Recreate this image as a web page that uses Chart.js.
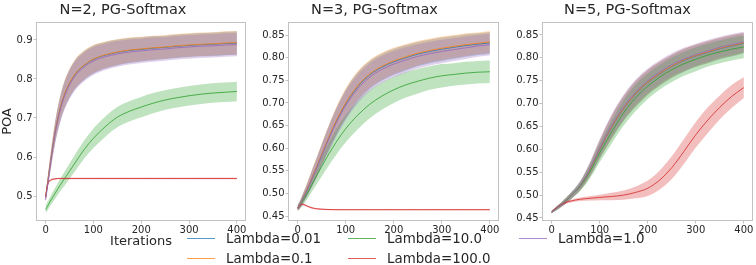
<!DOCTYPE html>
<html>
<head>
<meta charset="utf-8">
<script src="https://cdn.jsdelivr.net/npm/chart.js@4/dist/chart.umd.min.js"></script>
<style>
  body { margin: 0; background: #fff; width: 756px; height: 265px; position: relative; overflow: hidden; font-family: "DejaVu Sans", sans-serif; }
  canvas { position: absolute; top: 0; }
  .leg { position: absolute; font-size: 13.4px; line-height: 16px; color: #262626; white-space: nowrap; }
  .leg span.swatch { position: absolute; display: block; width: 28px; height: 0; border-top: 1.5px solid; }
</style>
</head>
<body>
<canvas id="c1" width="250" height="265" style="left:0"></canvas>
<canvas id="c2" width="252" height="265" style="left:250px"></canvas>
<canvas id="c3" width="254" height="265" style="left:502px"></canvas>
<div id="legend"></div>
<script>
// x positions where the curves were read
const iterations = [0, 5, 10, 20, 30, 40, 60, 80, 100, 125, 150, 175, 200, 225, 250, 275, 300, 325, 350, 375, 400];

const lambdaLabels = ['Lambda=0.01', 'Lambda=0.1', 'Lambda=10.0', 'Lambda=100.0', 'Lambda=1.0'];
const lambdaColors = ['31,119,180', '255,127,14', '44,160,44', '214,39,40', '148,103,189'];
const panelTitles = ['N=2, PG-Softmax', 'N=3, PG-Softmax', 'N=5, PG-Softmax'];

const xTicks = [0, 100, 200, 300, 400];
const yTicksN2 = [0.5, 0.6, 0.7, 0.8, 0.9];
const yTicksN3 = [0.45, 0.50, 0.55, 0.60, 0.65, 0.70, 0.75, 0.80, 0.85];
const yTicksN5 = [0.45, 0.50, 0.55, 0.60, 0.65, 0.70, 0.75, 0.80, 0.85];

// N=2 means
const n2Lam001 = [0.497,0.540,0.584,0.664,0.721,0.761,0.809,0.834,0.850,0.861,0.868,0.873,0.876,0.879,0.881,0.884,0.886,0.888,0.889,0.891,0.892];
const n2Lam01  = [0.498,0.541,0.585,0.665,0.722,0.762,0.810,0.835,0.851,0.862,0.869,0.874,0.877,0.880,0.882,0.885,0.887,0.889,0.890,0.892,0.893];
const n2Lam10  = [0.465,0.476,0.487,0.507,0.527,0.545,0.582,0.618,0.648,0.678,0.702,0.717,0.728,0.738,0.746,0.752,0.757,0.761,0.764,0.766,0.768];
const n2Lam100 = [0.497,0.532,0.540,0.544,0.545,0.545,0.545,0.545,0.545,0.545,0.545,0.545,0.545,0.545,0.545,0.545,0.545,0.545,0.545,0.545,0.545];
const n2Lam1   = [0.490,0.535,0.580,0.660,0.717,0.757,0.805,0.830,0.846,0.857,0.864,0.869,0.872,0.875,0.877,0.880,0.882,0.884,0.885,0.887,0.888];
// N=2 spreads
const n2SpreadTop   = [0.008,0.015,0.020,0.027,0.032,0.035,0.037,0.037,0.036,0.034,0.033,0.032,0.031,0.031,0.030,0.030,0.030,0.030,0.030,0.030,0.030];
const n2SpreadGreen = [0.010,0.011,0.012,0.014,0.016,0.018,0.021,0.023,0.025,0.026,0.026,0.026,0.026,0.026,0.025,0.025,0.025,0.025,0.025,0.025,0.025];
const n2SpreadRed   = [0.008,0.004,0.003,0.002,0.002,0.002,0.002,0.002,0.002,0.002,0.002,0.002,0.002,0.002,0.002,0.002,0.002,0.002,0.002,0.002,0.002];

// N=3 means
const n3Lam001 = [0.468,0.476,0.487,0.509,0.534,0.559,0.611,0.658,0.698,0.736,0.762,0.779,0.791,0.800,0.808,0.814,0.819,0.823,0.827,0.830,0.833];
const n3Lam01  = [0.468,0.476,0.487,0.510,0.535,0.560,0.612,0.660,0.700,0.738,0.764,0.781,0.793,0.802,0.810,0.816,0.821,0.825,0.829,0.832,0.835];
const n3Lam10  = [0.467,0.474,0.482,0.500,0.520,0.540,0.578,0.613,0.643,0.673,0.697,0.715,0.729,0.740,0.748,0.755,0.760,0.763,0.766,0.768,0.769];
const n3Lam100 = [0.467,0.474,0.476,0.472,0.468,0.466,0.4645,0.464,0.464,0.464,0.464,0.464,0.464,0.464,0.464,0.464,0.464,0.464,0.464,0.464,0.464];
const n3Lam1   = [0.467,0.475,0.486,0.508,0.532,0.557,0.608,0.655,0.694,0.731,0.757,0.774,0.786,0.795,0.803,0.809,0.814,0.818,0.822,0.826,0.829];
// N=3 spreads
const n3SpreadTop   = [0.006,0.008,0.010,0.014,0.018,0.021,0.026,0.030,0.032,0.032,0.031,0.030,0.029,0.028,0.027,0.026,0.026,0.025,0.025,0.024,0.024];
const n3SpreadGreen = [0.006,0.008,0.010,0.013,0.016,0.019,0.024,0.028,0.030,0.031,0.031,0.030,0.029,0.028,0.027,0.026,0.026,0.025,0.025,0.025,0.025];
const n3SpreadRed   = [0.005,0.004,0.003,0.002,0.002,0.0015,0.0015,0.0015,0.0015,0.0015,0.0015,0.0015,0.0015,0.0015,0.0015,0.0015,0.0015,0.0015,0.0015,0.0015,0.0015];

// N=5 means
const n5Lam001 = [0.463,0.467,0.471,0.479,0.488,0.498,0.521,0.556,0.599,0.648,0.689,0.721,0.746,0.765,0.781,0.794,0.804,0.812,0.820,0.826,0.832];
const n5Lam01  = [0.463,0.467,0.471,0.479,0.488,0.498,0.521,0.556,0.600,0.649,0.690,0.722,0.747,0.766,0.782,0.795,0.805,0.813,0.821,0.827,0.833];
const n5Lam10  = [0.463,0.467,0.471,0.479,0.488,0.498,0.520,0.552,0.592,0.638,0.680,0.713,0.738,0.758,0.774,0.787,0.797,0.806,0.813,0.819,0.824];
const n5Lam100 = [0.463,0.468,0.472,0.479,0.484,0.487,0.491,0.493,0.495,0.497,0.500,0.506,0.515,0.533,0.560,0.595,0.632,0.664,0.692,0.716,0.735];
const n5Lam1   = [0.463,0.467,0.471,0.479,0.488,0.498,0.522,0.558,0.602,0.652,0.693,0.725,0.750,0.769,0.785,0.797,0.807,0.815,0.823,0.829,0.835];
// N=5 spreads
const n5SpreadTop   = [0.003,0.003,0.004,0.005,0.006,0.007,0.010,0.015,0.020,0.025,0.027,0.028,0.027,0.026,0.025,0.025,0.024,0.024,0.023,0.023,0.022];
const n5SpreadGreen = [0.003,0.003,0.004,0.005,0.006,0.007,0.010,0.015,0.020,0.025,0.028,0.029,0.028,0.027,0.027,0.026,0.026,0.025,0.025,0.025,0.025];
const n5SpreadRed   = [0.002,0.002,0.002,0.003,0.003,0.003,0.004,0.005,0.006,0.008,0.010,0.013,0.017,0.021,0.025,0.027,0.028,0.028,0.026,0.025,0.023];

Chart.defaults.font.family = '"DejaVu Sans", sans-serif';
Chart.defaults.color = '#262626';

// series plotted in legend order; later ones sit on top
const lineOrder = [4, 3, 2, 1, 0];

function buildDatasets(means, spreads) {
  const sets = [];
  means.forEach((mean, k) => {
    const spread = spreads[k];
    const col = lambdaColors[k];
    const base = sets.length;
    const common = { pointRadius: 0, cubicInterpolationMode: 'monotone' };
    sets.push({ ...common, data: iterations.map((x, i) => ({ x, y: mean[i] + spread[i] })),
      borderWidth: 0, borderColor: 'transparent', backgroundColor: `rgba(${col},0.3)`, fill: base + 1, order: 10 + lineOrder[k] });
    sets.push({ ...common, data: iterations.map((x, i) => ({ x, y: mean[i] - spread[i] })),
      borderWidth: 0, borderColor: 'transparent', fill: false, order: 10 + lineOrder[k] });
    sets.push({ ...common, data: iterations.map((x, i) => ({ x, y: mean[i] })),
      borderWidth: 1, borderColor: `rgba(${col},0.8)`, fill: false, order: lineOrder[k] });
  });
  return sets;
}

const framePlugin = {
  id: 'frame',
  afterDatasetsDraw(chart) {
    const { ctx, chartArea: a } = chart;
    ctx.save();
    ctx.strokeStyle = '#c2c2c2';
    ctx.lineWidth = 1;
    ctx.strokeRect(a.left + 0.5, a.top + 0.5, a.right - a.left - 1, a.bottom - a.top - 1);
    ctx.restore();
  }
};

function makePanel(id, title, means, spreads, yTicks, yMin, yMax, yWidth, padRight, decimals, first) {
  new Chart(document.getElementById(id), {
    type: 'line',
    data: { datasets: buildDatasets(means, spreads) },
    options: {
      responsive: false,
      animation: false,
      layout: { padding: { left: 0, right: padRight, top: 0, bottom: 0 } },
      plugins: {
        legend: { display: false },
        tooltip: { enabled: false },
        title: { display: true, text: title, font: { size: 14.5, weight: 'normal' }, padding: { top: 2, bottom: 2.6 }, color: '#262626' }
      },
      scales: {
        x: {
          type: 'linear', min: -20, max: 419,
          afterBuildTicks: s => { s.ticks = xTicks.map(v => ({ value: v })); },
          afterFit: s => { s.height = 44; },
          grid: { display: true, drawOnChartArea: false, drawTicks: true, tickLength: 2.5, color: '#c2c2c2' },
          border: { display: false },
          ticks: { font: { size: 10 }, padding: 1, maxRotation: 0, color: '#262626', callback: v => String(v) },
          title: { display: first, text: 'Iterations', font: { size: 13 }, padding: { top: 0, bottom: 16 }, color: '#262626' }
        },
        y: {
          min: yMin, max: yMax,
          afterBuildTicks: s => { s.ticks = yTicks.map(v => ({ value: v })); },
          afterFit: s => { s.width = yWidth; },
          grid: { display: true, drawOnChartArea: false, drawTicks: true, tickLength: 2.5, color: '#c2c2c2' },
          border: { display: false },
          ticks: { font: { size: 10 }, padding: 1, color: '#262626', callback: v => Number(v).toFixed(decimals) },
          title: { display: first, text: 'POA', font: { size: 13 }, padding: { top: 0, bottom: 0 }, color: '#262626' }
        }
      }
    },
    plugins: [framePlugin]
  });
}

makePanel('c1', panelTitles[0],
  [n2Lam001, n2Lam01, n2Lam10, n2Lam100, n2Lam1],
  [n2SpreadTop, n2SpreadTop, n2SpreadGreen, n2SpreadRed, n2SpreadTop],
  yTicksN2, 0.436, 0.946, 36, 4, 1, true);
makePanel('c2', panelTitles[1],
  [n3Lam001, n3Lam01, n3Lam10, n3Lam100, n3Lam1],
  [n3SpreadTop, n3SpreadTop, n3SpreadGreen, n3SpreadRed, n3SpreadTop],
  yTicksN3, 0.439, 0.879, 38, 3, 2, false);
makePanel('c3', panelTitles[2],
  [n5Lam001, n5Lam01, n5Lam10, n5Lam100, n5Lam1],
  [n5SpreadTop, n5SpreadTop, n5SpreadGreen, n5SpreadRed, n5SpreadTop],
  yTicksN5, 0.4434, 0.8784, 40, 3, 2, false);

// legend below the panels, three columns filled top to bottom
const legendSpots = [[187, 239], [187, 259], [348, 239], [348, 259], [519, 239]];
const legend = document.getElementById('legend');
lambdaLabels.forEach((label, k) => {
  const [lx, ly] = legendSpots[k];
  const item = document.createElement('div');
  item.className = 'leg';
  item.style.left = lx + 'px';
  item.style.top = (ly - 8) + 'px';
  item.style.paddingLeft = '39px';
  const swatch = document.createElement('span');
  swatch.className = 'swatch';
  swatch.style.left = '0px';
  swatch.style.top = '7px';
  swatch.style.borderTopColor = `rgba(${lambdaColors[k]},0.75)`;
  item.appendChild(swatch);
  item.appendChild(document.createTextNode(label));
  legend.appendChild(item);
});
</script>
</body>
</html>
